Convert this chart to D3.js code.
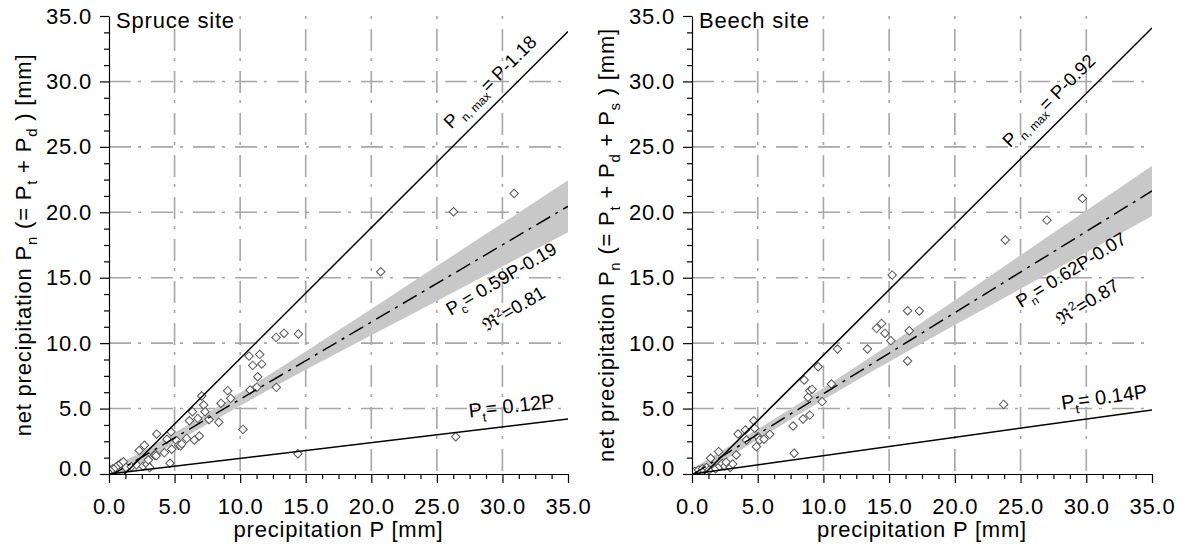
<!DOCTYPE html>
<html>
<head>
<meta charset="utf-8">
<script src="https://cdn.jsdelivr.net/npm/d3@7"></script>
<style>
body { margin: 0; background: #fff; }
svg text { font-family: "Liberation Sans", Arial, sans-serif; fill: #000; letter-spacing: 0.8px; white-space: pre; }
svg text.note { letter-spacing: 0; }
</style>
</head>
<body>
<svg id="chart" width="1183" height="548"></svg>
<script>
// tick values
const majorTicks = [0, 5, 10, 15, 20, 25, 30, 35];
const gridTicks = [5, 10, 15, 20, 25, 30];
const minorTicks = d3.range(0, 35.01, 1.25).filter(v => v % 5 !== 0);

// spruce site: precipitation P vs net precipitation
const sprucePoints = [
  [0.1, 0.3], [0.3, 0.4], [0.5, 0.5], [0.7, 0.68], [0.9, 0.8], [1.1, 0.94], [1.3, 0.5],
  [1.7, 0.56], [2.1, 0.7], [2.3, 1.8], [2.7, 2.2], [2.6, 0.6], [2.9, 0.75], [3.0, 1.07],
  [3.1, 0.5], [3.45, 1.45], [3.55, 1.5], [3.6, 1.4], [3.64, 3.05], [4.22, 1.63], [4.42, 2.65],
  [4.65, 0.82], [4.73, 3.23], [4.78, 1.89], [5.16, 2.55], [5.3, 2.2], [5.45, 2.15], [5.55, 2.3],
  [5.93, 2.72], [6.13, 4.07], [6.36, 4.76], [6.51, 2.6], [6.77, 4.25], [6.89, 2.9], [7.07, 5.96],
  [7.22, 5.27], [7.32, 4.76], [7.63, 4.17], [8.37, 3.95], [8.54, 5.40], [9.05, 6.37], [9.28, 5.78],
  [10.22, 3.41], [10.68, 9.01], [10.76, 6.42], [10.96, 8.30], [11.27, 6.62], [11.34, 7.43],
  [11.49, 9.14], [11.65, 8.40], [12.74, 10.44], [12.76, 6.62], [13.35, 10.75], [14.44, 10.7],
  [14.4, 1.55], [20.72, 15.46], [26.27, 20.04], [26.44, 2.85], [30.89, 21.44]
];
const spruceMaxLine = [[1.18, 0], [35, 33.82]];
const sprucePtLine = [[0, 0], [35, 4.2]];
const spruceFitLine = [[0, -0.19], [35, 20.46]];

// beech site
const beechPoints = [
  [0.2, 0.2], [0.5, 0.3], [0.8, 0.4], [1.1, 0.5], [1.3, 0.3], [1.42, 1.2], [1.8, 0.4],
  [2.03, 1.71], [2.1, 0.6], [2.3, 0.8], [2.5, 0.6], [2.6, 0.9], [2.9, 0.5], [3.1, 0.76],
  [3.37, 1.45], [3.5, 3.06], [4.06, 3.36], [4.14, 2.6], [4.7, 4.07], [4.77, 3.49], [4.9, 2.09],
  [5.03, 2.85], [5.15, 2.6], [5.48, 2.65], [5.92, 3.03], [7.69, 3.67], [7.77, 1.58], [8.45, 4.2],
  [8.53, 7.18], [8.83, 5.86], [8.96, 4.5], [8.96, 6.37], [9.14, 6.47], [9.6, 8.2], [9.9, 5.53],
  [10.61, 6.88], [11.07, 9.55], [13.35, 9.55], [14.04, 11.13], [14.42, 11.51], [14.68, 10.75],
  [15.13, 10.19], [15.23, 15.2], [16.4, 12.48], [16.4, 8.63], [16.53, 10.95], [17.3, 12.45],
  [23.71, 5.32], [23.84, 17.88], [27.01, 19.4], [29.7, 21.06]
];
const beechMaxLine = [[0.92, 0], [35, 34.08]];
const beechPtLine = [[0, 0], [35, 4.9]];
const beechFitLine = [[0, -0.07], [35, 21.63]];

// confidence bands around the fits
const bandX = [0, 5, 10, 15, 20, 25, 30, 35];
const spruceBandLo = [-0.69, 2.36, 5.21, 7.96, 10.61, 13.23, 15.86, 18.48];
const spruceBandHi = [0.31, 3.16, 6.21, 9.36, 12.61, 15.89, 19.16, 22.44];
const beechBandLo = [-0.52, 2.63, 5.68, 8.58, 11.38, 14.15, 16.93, 19.71];
const beechBandHi = [0.38, 3.43, 6.58, 9.88, 13.28, 16.71, 20.13, 23.55];

const panels = [
  {
    id: 'spruce', title: 'Spruce site', left: 109, right: 568,
    points: sprucePoints, maxLine: spruceMaxLine, ptLine: sprucePtLine, fitLine: spruceFitLine,
    lo: spruceBandLo, hi: spruceBandHi,
    ytitle: [['net precipitation P'], ['n', 'sub'], [' (= P'], ['t', 'sub'], [' + P'], ['d', 'sub'], [' ) [mm]']],
    labels: [
      { line: 'maxLine', at: 26.8, along: 0, off: -13, size: 18.5, parts: [['P'], [' n, max', 'sub'], ['= P-1.18']] },
      { line: 'ptLine', at: 27.6, along: 0, off: -13, size: 20, parts: [['P'], ['t', 'sub'], ['= 0.12P']] },
      { line: 'fitLine', at: 24.7, along: 0, off: 35, size: 18.5, parts: [['P'], ['c', 'sub'], ['= 0.59P-0.19']] },
      { line: 'fitLine', at: 24.7, along: 23, off: 67, size: 18.5, parts: [['\u211C'], ['2', 'sup'], ['=0.81']] }
    ]
  },
  {
    id: 'beech', title: 'Beech site', left: 692, right: 1152,
    points: beechPoints, maxLine: beechMaxLine, ptLine: beechPtLine, fitLine: beechFitLine,
    lo: beechBandLo, hi: beechBandHi,
    ytitle: [['net precipitation P'], ['n', 'sub'], [' (= P'], ['t', 'sub'], [' + P'], ['d', 'sub'], [' + P'], ['s', 'sub'], [' ) [mm]']],
    labels: [
      { line: 'maxLine', at: 25.0, along: 0, off: -15, size: 18.5, parts: [['P'], [' n, max', 'sub'], ['= P-0.92']] },
      { line: 'ptLine', at: 28.3, along: 0, off: -12.5, size: 20, parts: [['P'], ['t', 'sub'], ['= 0.14P']] },
      { line: 'fitLine', at: 23.8, along: 0, off: 31, size: 18.5, parts: [['P'], ['n', 'sub'], ['= 0.62P-0.07']] },
      { line: 'fitLine', at: 23.8, along: 25, off: 67, size: 18.5, parts: [['\u211C'], ['2', 'sup'], ['=0.87']] }
    ]
  }
];

const svg = d3.select('#chart');
const plotTop = 16, plotBottom = 474;
const fmt = d3.format('.1f');

// text with sub/superscripts
function rich(textSel, parts, size) {
  const small = Math.round(size * 0.66);
  let shift = 0;
  parts.forEach(([s, kind]) => {
    const target = kind === 'sub' ? size * 0.28 : kind === 'sup' ? -size * 0.38 : 0;
    textSel.append('tspan')
      .attr('dy', target - shift)
      .style('font-size', (kind ? small : size) + 'px')
      .text(s);
    shift = target;
  });
}

function lineY(l, xv) {
  return l[0][1] + (l[1][1] - l[0][1]) * (xv - l[0][0]) / (l[1][0] - l[0][0]);
}

panels.forEach(p => {
  const x = d3.scaleLinear().domain([0, 35]).range([p.left, p.right]);
  const y = d3.scaleLinear().domain([0, 35]).range([plotBottom, plotTop]);
  const g = svg.append('g');

  g.append('clipPath').attr('id', 'clip-' + p.id)
    .append('rect')
    .attr('x', x(0)).attr('y', y(35))
    .attr('width', x(35) - x(0)).attr('height', y(0) - y(35));

  // grid
  g.append('g').selectAll('line.v').data(gridTicks).join('line')
    .attr('x1', d => x(d)).attr('x2', d => x(d))
    .attr('y1', y(35)).attr('y2', y(0))
    .attr('stroke', '#a6a6a6').attr('stroke-width', 1.6)
    .attr('stroke-dasharray', '3,10,22,7');
  g.append('g').selectAll('line.h').data(gridTicks).join('line')
    .attr('x1', x(0)).attr('x2', x(35))
    .attr('y1', d => y(d)).attr('y2', d => y(d))
    .attr('stroke', '#a6a6a6').attr('stroke-width', 1.6)
    .attr('stroke-dasharray', '22,7,3,10');

  const plot = g.append('g').attr('clip-path', `url(#clip-${p.id})`);

  // confidence band
  const band = bandX.map((v, i) => ({ x: v, lo: p.lo[i], hi: p.hi[i] }));
  plot.append('path').datum(band)
    .attr('fill', '#c8c8c8')
    .attr('d', d3.area().x(d => x(d.x)).y0(d => y(d.lo)).y1(d => y(d.hi)).curve(d3.curveMonotoneX));

  // points
  plot.append('g').selectAll('path').data(p.points).join('path')
    .attr('d', d3.symbol(d3.symbolSquare, 36))
    .attr('transform', d => `translate(${x(d[0])},${y(d[1])}) rotate(45)`)
    .attr('fill', '#fff').attr('stroke', '#555').attr('stroke-width', 1);

  // lines
  const line = d3.line().x(d => x(d[0])).y(d => y(d[1]));
  plot.append('path').datum(p.maxLine).attr('d', line)
    .attr('stroke', '#000').attr('stroke-width', 1.5).attr('fill', 'none');
  plot.append('path').datum(p.ptLine).attr('d', line)
    .attr('stroke', '#000').attr('stroke-width', 1.5).attr('fill', 'none');
  plot.append('path').datum(p.fitLine).attr('d', line)
    .attr('stroke', '#000').attr('stroke-width', 1.5).attr('fill', 'none')
    .attr('stroke-dasharray', '16,6,3,6');

  // axes
  g.append('g').attr('transform', `translate(0,${y(0)})`)
    .call(d3.axisBottom(x).tickValues(majorTicks).tickFormat(fmt).tickSize(9).tickPadding(15).tickSizeOuter(0));
  g.append('g').attr('transform', `translate(0,${y(0)})`)
    .call(d3.axisBottom(x).tickValues(minorTicks).tickFormat('').tickSize(5).tickSizeOuter(0))
    .call(a => a.select('.domain').remove());
  const yAxis = g.append('g').attr('transform', `translate(${x(0)},0)`)
    .call(d3.axisLeft(y).tickValues(majorTicks).tickFormat(fmt).tickSize(9).tickPadding(8).tickSizeOuter(0));
  g.append('g').attr('transform', `translate(${x(0)},0)`)
    .call(d3.axisLeft(y).tickValues(minorTicks).tickFormat('').tickSize(5).tickSizeOuter(0))
    .call(a => a.select('.domain').remove());
  g.selectAll('.tick line, .domain').attr('stroke-width', 1.2);
  g.selectAll('.tick text').style('font-size', '22px');
  yAxis.selectAll('.tick text').filter(d => d === 0).attr('y', -6);

  // axis titles
  g.append('text')
    .attr('x', (x(0) + x(35)) / 2).attr('y', 537)
    .attr('text-anchor', 'middle').style('font-size', '22px')
    .text('precipitation P [mm]');
  const yt = g.append('text')
    .attr('transform', `translate(${x(0) - 78},${(y(0) + y(35)) / 2}) rotate(-90)`)
    .attr('text-anchor', 'middle');
  rich(yt, p.ytitle, 22);

  g.append('text')
    .attr('x', x(0) + 7).attr('y', 27.5)
    .style('font-size', '22px')
    .text(p.title);

  // line labels
  p.labels.forEach(lb => {
    const l = p[lb.line];
    const ang = Math.atan2(y(l[1][1]) - y(l[0][1]), x(l[1][0]) - x(l[0][0])) * 180 / Math.PI;
    const t = g.append('text').attr('class', 'note')
      .attr('transform', `translate(${x(lb.at)},${y(lineY(l, lb.at))}) rotate(${ang})`)
      .attr('x', lb.along).attr('y', lb.off);
    rich(t, lb.parts, lb.size);
  });
});
</script>
</body>
</html>
